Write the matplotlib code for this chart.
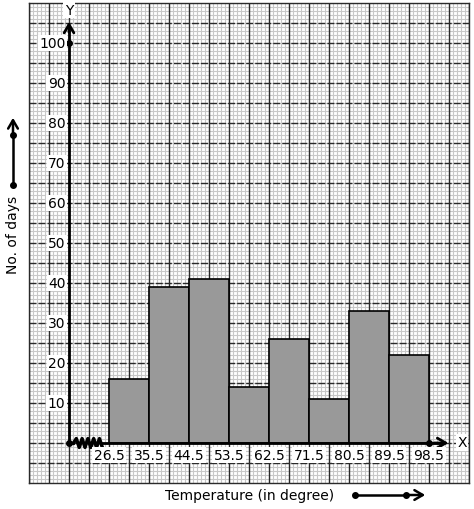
import numpy as np
import matplotlib.pyplot as plt

# class boundaries and frequencies
edges = [26.5, 35.5, 44.5, 53.5, 62.5, 71.5, 80.5, 89.5, 98.5]
days = [16, 39, 41, 14, 26, 11, 33, 22]
y_ticks = [10, 20, 30, 40, 50, 60, 70, 80, 90, 100]

x0 = 17.5   # origin of the broken x axis
W, H = 474, 510
fs = 10

fig = plt.figure(figsize=(W / 100, H / 100), dpi=100)
ax = fig.add_axes([29 / W, 26 / H, 440 / W, 480 / H])
ax.set_xlim(8.5, 107.5)
ax.set_ylim(-10, 110)

# graph paper: light minor grid, dark major lines drawn on top
ax.vlines(np.linspace(8.5, 107.5, 111), -10, 110, color="#c8c8c8", lw=0.8, zorder=1)
ax.hlines(np.arange(-10, 111, 1), 8.5, 107.5, color="#c8c8c8", lw=0.8, zorder=1)
ax.hlines(np.arange(-5, 110, 5), 8.5, 107.5, color="#2a2a2a", lw=1.0,
          linestyles=[(0, (5, 1.5))], zorder=1.5)
ax.vlines(np.linspace(8.5, 107.5, 23), -10, 110, color="#2a2a2a", lw=1.0, zorder=1.6)
ax.set_xticks([])
ax.set_yticks([])
for s in ax.spines.values():
    s.set_color("#2a2a2a")
    s.set_linewidth(1.0)

# histogram bars
widths = np.diff(edges)
ax.bar(edges[:-1], days, width=widths, align="edge", color="#999999",
       edgecolor="black", lw=1.2, zorder=3)

# axes with break
arrow = dict(arrowstyle="->,head_length=0.6,head_width=0.35", lw=2, color="black")
ax.plot([x0, x0], [0, 104], color="black", lw=2, zorder=4)
ax.annotate("", xy=(x0, 106), xytext=(x0, 102), arrowprops=arrow, zorder=4)
zx = np.linspace(18.5, 25.0, 11)
zy = np.array([0] + [1.1, -1.1] * 5)
ax.plot(zx, zy, color="black", lw=2.5, zorder=4)
ax.plot([x0, 18.5], [0, 0], color="black", lw=2, zorder=4)
ax.plot([25.0, 101], [0, 0], color="black", lw=2, zorder=4)
ax.annotate("", xy=(103.5, 0), xytext=(99, 0), arrowprops=arrow, zorder=4)
ax.plot([x0, x0, edges[-1]], [0, 100, 0], "o", color="black", ms=4, ls="none", zorder=5)

box = dict(facecolor="white", edgecolor="none", pad=1)
for v in y_ticks:
    ax.text(x0 - 0.8, v, str(v), ha="right", va="center", fontsize=fs, bbox=box, zorder=6)
for e in edges:
    ax.text(e, -3, str(e), ha="center", va="center", fontsize=fs, bbox=box, zorder=6)
ax.text(x0, 108.3, "Y", ha="center", va="center", fontsize=fs, bbox=box, zorder=6)
ax.text(106, 0.2, "X", ha="center", va="center", fontsize=fs, bbox=box, zorder=6)

# axis titles with arrows
fig.text(13 / W, 275 / H, "No. of days", rotation=90, ha="center", va="center", fontsize=fs)
fig.text(250 / W, 14 / H, "Temperature (in degree)", ha="center", va="center", fontsize=fs)
ap = dict(arrowstyle="->,head_length=0.6,head_width=0.35", lw=1.8, color="black")
fig.add_artist(plt.Line2D([13 / W, 13 / W], [324 / H, 374 / H], color="black", marker="o", ms=4, lw=1.8))
ax.annotate("", xy=(13, 394), xytext=(13, 370), xycoords="figure pixels",
            textcoords="figure pixels", arrowprops=ap, annotation_clip=False)
fig.add_artist(plt.Line2D([355 / W, 406 / W], [14 / H, 14 / H], color="black", marker="o", ms=4, lw=1.8))
ax.annotate("", xy=(428, 14), xytext=(402, 14), xycoords="figure pixels",
            textcoords="figure pixels", arrowprops=ap, annotation_clip=False)

fig.savefig("out.png", dpi=100)
